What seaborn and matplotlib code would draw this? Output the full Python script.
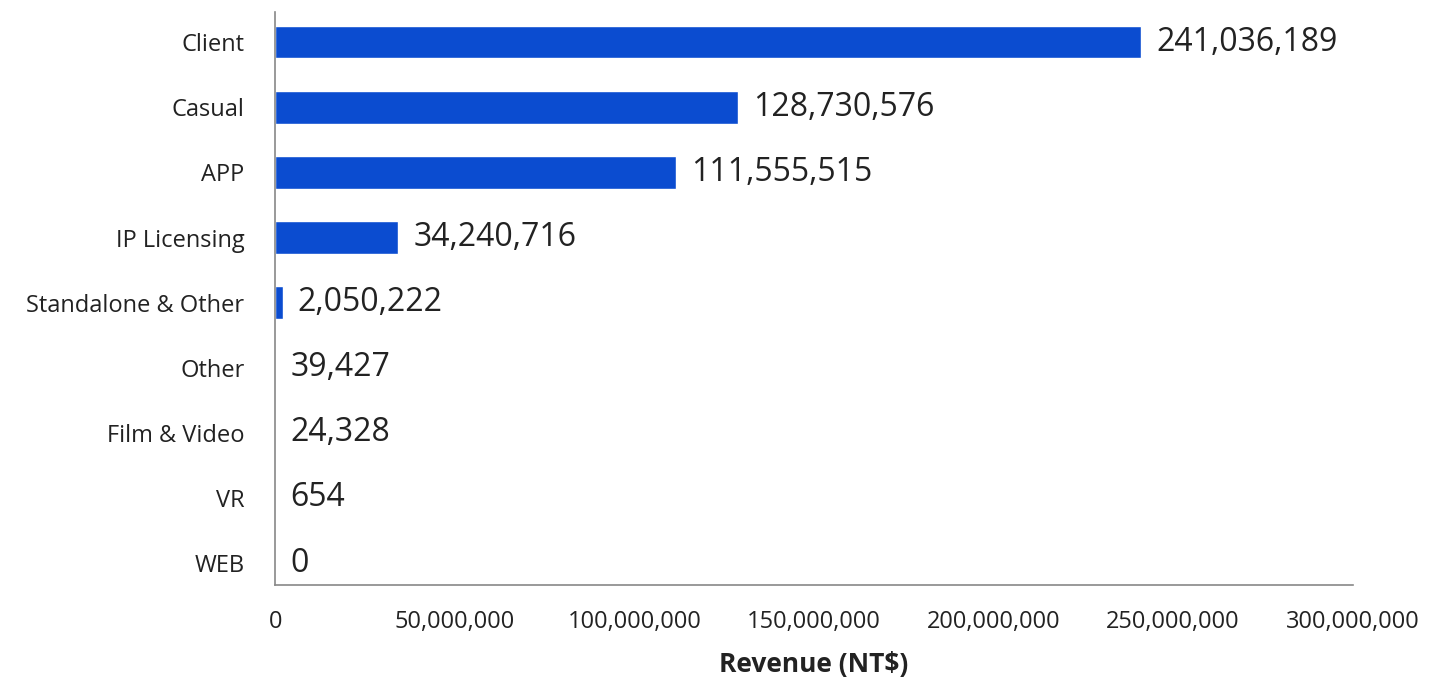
import matplotlib
matplotlib.use("Agg")
import matplotlib.pyplot as plt
import matplotlib.ticker as mticker
import seaborn as sns
import pandas as pd

categories = ["Client", "Casual", "APP", "IP Licensing", "Standalone & Other",
              "Other", "Film & Video", "VR", "WEB"]
revenue = [241036189, 128730576, 111555515, 34240716, 2050222, 39427, 24328, 654, 0]
x_ticks = [0, 50000000, 100000000, 150000000, 200000000, 250000000, 300000000]

df = pd.DataFrame({"Category": categories, "Revenue": revenue})

sns.set_theme(style="white")
plt.rcParams["font.family"] = ["Open Sans", "DejaVu Sans"]

fig, ax = plt.subplots(figsize=(14.33, 6.82), dpi=100)
fig.subplots_adjust(left=0.192, right=0.944, top=0.982, bottom=0.142)

sns.barplot(data=df, y="Category", x="Revenue", order=categories,
            color="#0B4CD0", width=0.5, saturation=1, ax=ax)

for val, patch in zip(revenue, ax.patches):
    y = patch.get_y() + patch.get_height() / 2
    ax.annotate(f"{val:,}", xy=(val, y), xytext=(11, 0), textcoords="offset points",
                va="center", ha="left", fontsize=23, color="#222222")

ax.set_xlim(0, 300000000)
ax.set_ylim(8.34, -0.46)
ax.set_xticks(x_ticks)
ax.xaxis.set_major_formatter(mticker.FuncFormatter(lambda v, p: f"{int(v):,}"))
ax.tick_params(axis="x", direction="in", length=4, width=0.8, color="#888888",
               labelsize=17, pad=18, labelcolor="#222222")
ax.tick_params(axis="y", length=0, labelsize=17, pad=22, labelcolor="#222222")
ax.set_xlabel("Revenue (NT$)", fontsize=19, fontweight="bold", labelpad=12, color="#222222")
ax.set_ylabel("")

sns.despine(ax=ax)
for side in ["left", "bottom"]:
    ax.spines[side].set_color("#888888")
    ax.spines[side].set_linewidth(1.2)

fig.savefig("out.png", dpi=100)
